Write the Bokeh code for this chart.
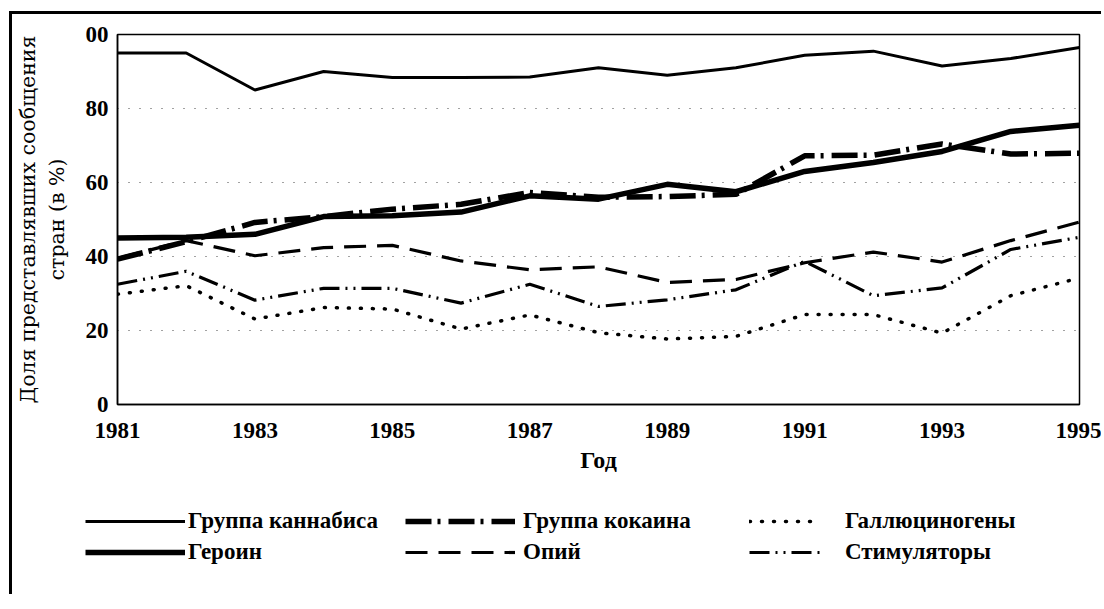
from bokeh.plotting import figure
from bokeh.models import Legend, LegendItem, FixedTicker, Range1d
from bokeh.layouts import column
from bokeh.embed import file_html
from bokeh.resources import INLINE

years = list(range(1981, 1996))
cannabis = [95, 95, 85, 90, 88.4, 88.4, 88.5, 91, 89, 91, 94.4, 95.5, 91.5, 93.5, 96.5]
heroin = [45, 45.2, 46, 50.8, 51, 52, 56.4, 55.5, 59.5, 57.5, 63, 65.4, 68.4, 73.8, 75.5]
cocaine = [39.3, 44, 49.2, 50.8, 52.8, 54.1, 57.3, 56, 56.2, 56.8, 67.2, 67.4, 70.4, 67.7, 67.9]
opium = [39.5, 44.3, 40.2, 42.4, 43, 38.8, 36.4, 37.2, 33, 33.8, 38.3, 41.2, 38.5, 44.3, 49.3]
stimulants = [32.5, 36, 28.2, 31.4, 31.4, 27.4, 32.5, 26.5, 28.3, 31, 38.7, 29.4, 31.5, 41.9, 45.2]
hallucinogens = [29.8, 32.1, 23.1, 26.2, 25.8, 20.4, 24.2, 19.4, 17.7, 18.4, 24.3, 24.3, 19.3, 29.4, 34.2]

x_ticks = [1981, 1983, 1985, 1987, 1989, 1991, 1993, 1995]
y_ticks = [0, 20, 40, 60, 80, 100]
y_tick_labels = {100: "00"}

FONT = "Liberation Serif"

SERIES = {
    "cannabis": (cannabis, dict(line_color="black", line_width=3)),
    "heroin": (heroin, dict(line_color="black", line_width=5.5)),
    "cocaine": (cocaine, dict(line_color="black", line_width=5.5, line_dash="26 6 3 8")),
    "opium": (opium, dict(line_color="black", line_width=3.2, line_dash="22 11")),
    "stimulants": (stimulants, dict(line_color="black", line_width=3.2, line_dash="20 6 2 6 2 6")),
    "hallucinogens": (hallucinogens, dict(line_color="black", line_width=3.5, line_dash="1 11",
                                          line_cap="round")),
}

p = figure(width=1089, height=480, output_backend="svg", toolbar_location=None,
           x_range=Range1d(1981, 1995), y_range=Range1d(0, 100),
           min_border_left=95, min_border_right=22, min_border_top=20, min_border_bottom=90)

p.outline_line_color = "black"
p.outline_line_width = 1.5
p.background_fill_color = "white"
p.border_fill_color = "white"

p.xgrid.grid_line_color = None
p.ygrid.grid_line_color = "#444444"
p.ygrid.grid_line_dash = "1 10"
p.ygrid.grid_line_width = 1.2
p.ygrid.ticker = FixedTicker(ticks=[20, 40, 60, 80])

p.xaxis.ticker = FixedTicker(ticks=x_ticks)
p.yaxis.ticker = FixedTicker(ticks=y_ticks)
p.yaxis.major_label_overrides = y_tick_labels

for ax in (p.xaxis[0], p.yaxis[0]):
    ax.axis_line_color = "black"
    ax.axis_line_width = 1.5
    ax.major_tick_line_color = None
    ax.minor_tick_line_color = None
    ax.major_label_text_font = FONT
    ax.major_label_text_font_style = "bold"
    ax.major_label_text_font_size = "23px"
    ax.major_label_text_color = "black"
    ax.axis_label_text_color = "black"

p.xaxis.major_label_standoff = 12
p.yaxis.major_label_standoff = 3
p.xaxis.axis_label = "Год"
p.xaxis.axis_label_text_font = FONT
p.xaxis.axis_label_text_font_style = "bold"
p.xaxis.axis_label_text_font_size = "24px"
p.xaxis.axis_label_standoff = 6
p.yaxis.axis_label = "Доля представлявших сообщения\nстран (в %)"
p.yaxis.axis_label_text_font = "DejaVu Serif"
p.yaxis.axis_label_text_font_style = "normal"
p.yaxis.axis_label_text_font_size = "20.5px"
p.yaxis.axis_label_standoff = 14

for name, (vals, style) in SERIES.items():
    p.line(years, vals, **style)

# legend strip below the chart (its series lie outside its visible ranges)
q = figure(width=1089, height=100, output_backend="svg", toolbar_location=None,
           x_range=Range1d(0, 1), y_range=Range1d(0, 1),
           min_border_left=0, min_border_right=0, min_border_top=0, min_border_bottom=0)
q.frame_align = False
q.axis.visible = False
q.grid.grid_line_color = None
q.outline_line_color = None
q.background_fill_color = "white"
q.border_fill_color = "white"

lr = {name: q.line(years, vals, **style) for name, (vals, style) in SERIES.items()}


def make_legend(items, loc, gw, standoff):
    lg = Legend(items=items, location=loc, orientation="vertical",
                glyph_width=gw, glyph_height=22, label_height=22,
                label_standoff=standoff, spacing=5, padding=0, margin=0,
                border_line_color=None, background_fill_alpha=0,
                label_text_font=FONT, label_text_font_style="bold",
                label_text_font_size="23px", label_text_color="black")
    q.add_layout(lg, "center")


make_legend([LegendItem(label="Группа каннабиса", renderers=[lr["cannabis"]]),
             LegendItem(label="Героин", renderers=[lr["heroin"]])], (73, 29), 100, 3)
make_legend([LegendItem(label="Группа кокаина", renderers=[lr["cocaine"]]),
             LegendItem(label="Опий", renderers=[lr["opium"]])], (393, 29), 110, 8)
make_legend([LegendItem(label="Галлюциногены", renderers=[lr["hallucinogens"]]),
             LegendItem(label="Стимуляторы", renderers=[lr["stimulants"]])], (737, 29), 72, 24)

layout = column(p, q, spacing=0,
                styles={"border-left": "3px solid black", "border-top": "3px solid black",
                        "margin-top": "11px", "margin-left": "9px"})

open("out.html", "w").write(file_html(layout, INLINE))
